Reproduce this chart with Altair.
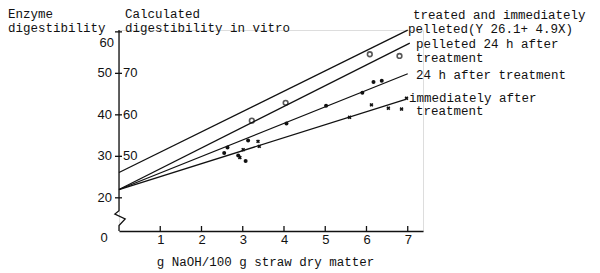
import altair as alt
import pandas as pd

# ---- data ----
series = ["treated and immediately pelleted", "pelleted 24 h after treatment",
          "24 h after treatment", "immediately after treatment"]
start_x = [0, 0, 0, 0]
start_y = [26.1, 22.0, 22.0, 22.0]
end_x = [7.0, 7.05, 7.0, 6.95]
end_y = [60.4, 57.3, 49.9, 43.7]

circle_x = [3.22, 4.04, 6.08, 6.80]
circle_y = [38.6, 42.9, 54.6, 54.2]

dot_x = [2.55, 2.63, 2.89, 3.07, 3.13, 4.06, 5.02, 5.90, 6.17, 6.37]
dot_y = [30.8, 32.1, 30.2, 28.9, 33.8, 37.9, 42.2, 45.3, 47.9, 48.2]

cross_x = [2.93, 3.01, 3.37, 3.40, 5.59, 6.12, 6.53, 6.85, 6.97]
cross_y = [29.7, 31.6, 33.6, 32.4, 39.4, 42.4, 41.6, 41.4, 44.0]

y_ticks = [20, 30, 40, 50, 60]
calc_labels = [50, 60, 70]
calc_at = [30, 40, 50]
x_ticks = [1, 2, 3, 4, 5, 6, 7]

# broken y axis (zigzag near the bottom)
yaxis_x = [0, 0, 0.15, -0.1, 0, 0]
yaxis_y = [12, 13.3, 14.9, 16.1, 16.9, 60.45]

# ---- frames ----
lines_df = pd.DataFrame({
    "series": series * 2,
    "x": start_x + end_x,
    "y": start_y + end_y,
})
circ_df = pd.DataFrame({"x": circle_x, "y": circle_y})
dot_df = pd.DataFrame({"x": dot_x, "y": dot_y})
cross_df = pd.DataFrame({"x": cross_x, "y": cross_y})
ytick_df = pd.DataFrame({"y": y_ticks})
calc_df = pd.DataFrame({"y": calc_at, "t": [str(v) for v in calc_labels]})
xtick_df = pd.DataFrame({"x": x_ticks})
yaxis_df = pd.DataFrame({"x": yaxis_x, "y": yaxis_y, "o": list(range(len(yaxis_x)))})

INK = "#111111"
MONO = "Liberation Mono"
NUM = "Liberation Sans"

W, H = 304, 201
xs = alt.Scale(domain=[0, 7.37], nice=False, zero=False)
ys = alt.Scale(domain=[12, 60.45], nice=False, zero=False)
xaxis = alt.Axis(values=x_ticks, ticks=False, grid=False, domain=True,
                 domainColor=INK, domainWidth=1.3, labelColor=INK,
                 labelFont=NUM, labelFontSize=13, labelPadding=2,
                 title="g NaOH/100 g straw dry matter", titleFont=MONO,
                 titleFontSize=12.5, titleFontWeight="normal", titleColor=INK,
                 titlePadding=9, titleX=146)
X = alt.X("x:Q", scale=xs, axis=xaxis)
Y = alt.Y("y:Q", scale=ys, axis=None)

reg = alt.Chart(lines_df).mark_line(color=INK, strokeWidth=1.3, clip=False).encode(
    x=X, y=Y, detail="series:N")

yline = alt.Chart(yaxis_df).mark_line(color=INK, strokeWidth=1.3, clip=False).encode(
    x=X, y=Y, order="o:Q")

circ = alt.Chart(circ_df).mark_point(shape="circle", filled=False, color=INK,
                                     size=22, strokeWidth=1.6).encode(x=X, y=Y)
dots = alt.Chart(dot_df).mark_point(shape="circle", filled=True, color=INK,
                                    size=16, opacity=1).encode(x=X, y=Y)
cross = alt.Chart(cross_df).mark_point(shape="cross", filled=True, color=INK,
                                       size=16, angle=45, opacity=1).encode(x=X, y=Y)

ytk = alt.Chart(ytick_df).mark_rule(color=INK, strokeWidth=1.3).encode(
    y=Y, x=alt.value(-4), x2=alt.value(3))
ylab = alt.Chart(ytick_df).transform_filter("datum.y < 60").mark_text(
    align="right", baseline="middle", font=NUM, fontSize=13, color=INK).encode(
    y=Y, x=alt.value(-7), text="y:Q")
ylab60 = alt.Chart(ytick_df).transform_filter("datum.y == 60").mark_text(
    align="right", baseline="middle", font=NUM, fontSize=13, color=INK, dy=11).encode(
    y=Y, x=alt.value(-5), text="y:Q")
clab = alt.Chart(calc_df).mark_text(
    align="left", baseline="middle", font=NUM, fontSize=13, color=INK, dx=1).encode(
    y=Y, x=alt.value(3), text="t:N")
xtk = alt.Chart(xtick_df).mark_rule(color=INK, strokeWidth=1.3).encode(
    x=X, y=alt.value(H - 5), y2=alt.value(H + 1))


def label(text, px, py, font=MONO, size=12.5, align="left"):
    return alt.Chart(pd.DataFrame({"t": [text]})).mark_text(
        align=align, baseline="middle", font=font, fontSize=size, color=INK
    ).encode(x=alt.value(px), y=alt.value(py), text="t:N")


labels = [
    label("0", -15, 208, font=NUM, size=13, align="center"),
    label("Enzyme", -111, -16),
    label("digestibility", -111, -2),
    label("Calculated", 6, -16),
    label("digestibility in vitro", 6, -2),
    label("treated and immediately", 294, -15),
    label("pelleted(Y  26.1+ 4.9X)", 289, -1),
    label("pelleted 24 h after", 297, 14),
    label("treatment", 297, 28),
    label("24 h after treatment", 297, 45),
    label("immediately after", 290, 68),
    label("treatment", 297, 81),
]

chart = alt.layer(reg, yline, ytk, xtk, ylab, ylab60, clab, circ, dots, cross, *labels).properties(
    width=W, height=H,
    autosize=alt.AutoSizeParams(type="none"),
    padding={"left": 111, "top": 22, "right": 169, "bottom": 40},
).configure_view(stroke=None).configure(background="white")

chart.save("out.html", embed_options={"renderer": "svg", "actions": False})
